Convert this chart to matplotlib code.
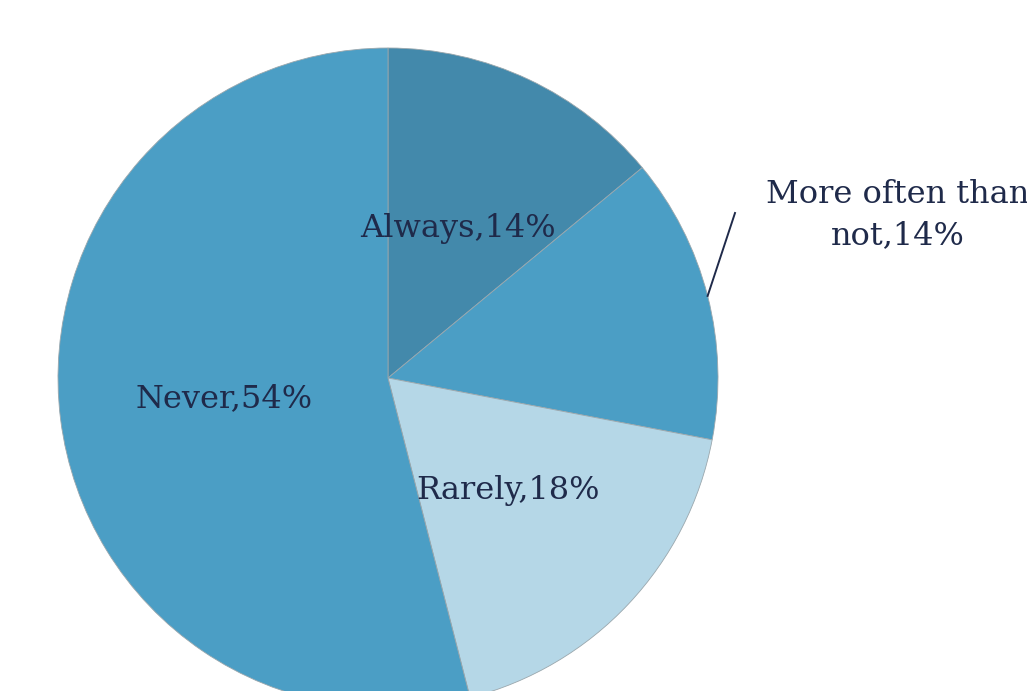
import numpy as np
import matplotlib
matplotlib.use("Agg")
import matplotlib.pyplot as plt

# survey answers, clockwise from 12 o'clock
categories = ["Always", "More often than\nnot", "Rarely", "Never"]
shares = [14, 14, 18, 54]
colors = ["#4389ab", "#4b9ec5", "#b5d7e7", "#4b9ec5"]
text_color = "#1f2a4a"

W, H = 1027, 691
fig = plt.figure(figsize=(W / 100, H / 100), dpi=100)
ax = fig.add_axes([0, 0, 1, 1])

center = (388, H - 378)
radius = 330
fsize = 23

labels = ["%s,%d%%" % (c, s) for c, s in zip(categories, shares)]
wedges, texts = ax.pie(shares, colors=colors, startangle=90, counterclock=False,
                       center=center, radius=radius, labels=labels, labeldistance=0.5,
                       wedgeprops=dict(edgecolor="#9aa7ad", linewidth=0.6),
                       textprops=dict(family="DejaVu Serif", fontsize=fsize, color=text_color,
                                      ha="center", va="center"))
ax.set_xlim(0, W)
ax.set_ylim(0, H)
ax.axis("off")

# the small slice gets an outside label with a leader line
w = wedges[1]
mid = np.deg2rad((w.theta1 + w.theta2) / 2)
edge = (center[0] + radius * np.cos(mid), center[1] + radius * np.sin(mid))
texts[1].set_visible(False)
ax.text(898, H - 215, labels[1], ha="center", va="center", family="DejaVu Serif",
        fontsize=fsize, color=text_color, linespacing=1.45)
ax.plot([edge[0], 735], [edge[1], H - 213], color=text_color, linewidth=1.4)

fig.savefig("out.png", dpi=100)
